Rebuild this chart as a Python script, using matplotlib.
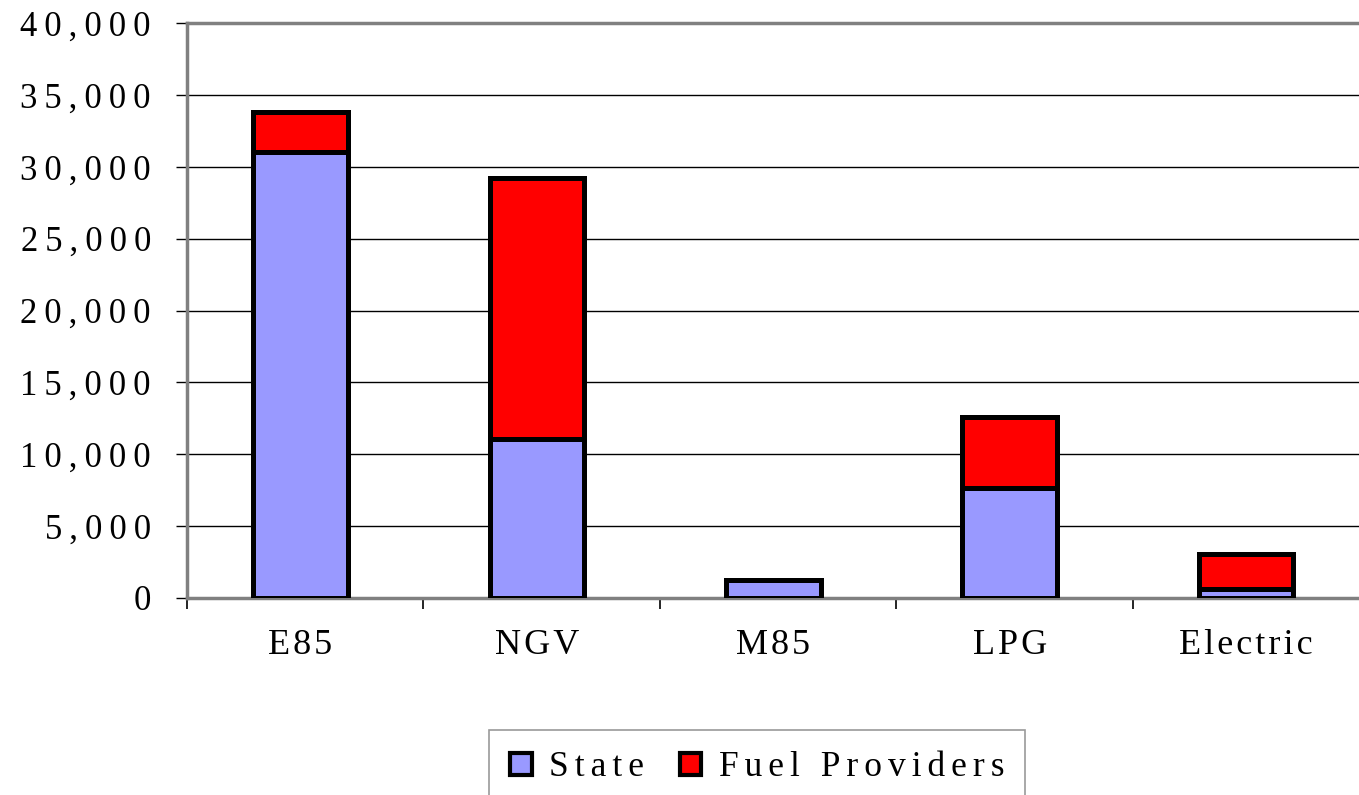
import matplotlib
matplotlib.use("Agg")
import matplotlib.pyplot as plt
from matplotlib.patches import Patch
from matplotlib.ticker import FixedLocator, FuncFormatter

categories = ["E85", "NGV", "M85", "LPG", "Electric"]
state = [31050, 11050, 1250, 7650, 600]
fuel_providers = [2750, 18150, 0, 4950, 2450]
y_ticks = [0, 5000, 10000, 15000, 20000, 25000, 30000, 35000, 40000]

THIN = "\u2009"
HAIR = "\u200a"

def spaced(s, sep, word_sep=" "):
    return word_sep.join(sep.join(list(w)) for w in s.split(" "))

plt.rcParams['font.family'] = ['Liberation Serif', 'DejaVu Serif']

fig = plt.figure(figsize=(13.59, 7.95), dpi=100)
ax = fig.add_axes([187/1359, 197/795, 1182/1359, 575/795])

x = [i + 0.48 for i in range(len(categories))]
ax.bar(x, state, width=0.40, color="#9999FF", edgecolor="black", linewidth=3.6, zorder=3)
ax.bar(x, fuel_providers, width=0.40, bottom=state, color="#FF0000", edgecolor="black",
       linewidth=3.6, zorder=3)

ax.set_xlim(0, len(categories))
ax.set_ylim(0, 40000)
ax.set_yticks(y_ticks)
ax.yaxis.set_major_formatter(FuncFormatter(lambda v, p: spaced(f"{int(v):,}", THIN)))
ax.yaxis.grid(True, color="black", linewidth=1.0, zorder=0)
ax.set_xticks(x)
ax.set_xticklabels([spaced(c, HAIR) for c in categories])
ax.xaxis.set_minor_locator(FixedLocator(list(range(len(categories) + 1))))
ax.tick_params(axis="x", which="major", length=0, pad=22, labelsize=26)
ax.tick_params(axis="x", which="minor", length=8, width=1.2, color="black", direction="out")
ax.tick_params(axis="y", which="major", length=8, width=1.0, color="black", direction="out",
               pad=18, labelsize=25)

for side in ["left", "top", "bottom"]:
    ax.spines[side].set_color("#808080")
    ax.spines[side].set_linewidth(2.5)
ax.spines["right"].set_visible(False)

handles = [Patch(facecolor="#9999FF", edgecolor="black", linewidth=3,
                 label=spaced("State", HAIR * 2)),
           Patch(facecolor="#FF0000", edgecolor="black", linewidth=3,
                 label=spaced("Fuel Providers", HAIR * 2, HAIR * 2 + " " + HAIR * 2))]
leg = fig.legend(handles=handles, loc="upper left", bbox_to_anchor=(489/1359, 1 - 730/795),
                 ncol=2, fontsize=25.5, frameon=True, fancybox=False, edgecolor="#808080",
                 handlelength=0.6, handleheight=0.6, handletextpad=0.5, columnspacing=1.0,
                 borderpad=0.6, borderaxespad=0)
leg.get_frame().set_linewidth(1.2)

fig.savefig("out.png", dpi=100)
